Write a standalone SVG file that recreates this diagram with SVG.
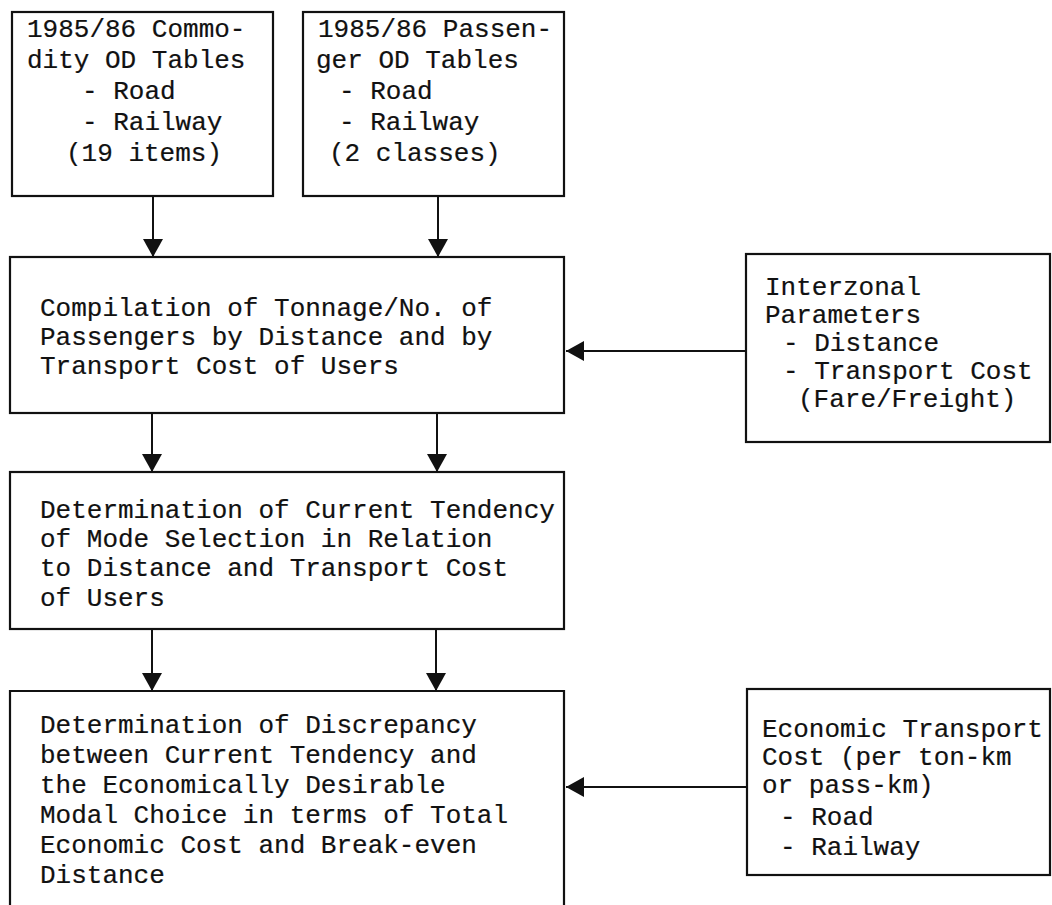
<svg xmlns="http://www.w3.org/2000/svg" width="1052" height="905" viewBox="0 0 1052 905">
<defs>
<style>
.box{fill:none;stroke:#111;stroke-width:2.2}
.t{font-family:"Liberation Mono","Courier New",monospace;font-size:26px;fill:#111;stroke:#111;stroke-width:0.2}
.ln{stroke:#111;stroke-width:2;fill:none}
</style>
<marker id="ah" viewBox="0 0 18 20" refX="18" refY="10" markerWidth="18" markerHeight="20" markerUnits="userSpaceOnUse" orient="auto">
<path d="M0,0 L18,10 L0,20 z" fill="#111"/>
</marker>
</defs>
<rect width="1052" height="905" fill="#fff"/>
<g id="n1">
<rect class="box" x="12" y="12" width="261" height="184"/>
<text class="t" x="27" y="37">1985/86 Commo-</text>
<text class="t" x="27" y="68">dity OD Tables</text>
<text class="t" x="82" y="99">- Road</text>
<text class="t" x="82" y="130">- Railway</text>
<text class="t" x="66" y="161">(19 items)</text>
</g>
<g id="n2">
<rect class="box" x="303" y="12" width="261" height="184"/>
<text class="t" x="318" y="37">1985/86 Passen-</text>
<text class="t" x="316" y="68">ger OD Tables</text>
<text class="t" x="339" y="99">- Road</text>
<text class="t" x="339" y="130">- Railway</text>
<text class="t" x="329" y="161">(2 classes)</text>
</g>
<g id="n3">
<rect class="box" x="10" y="257" width="554" height="156"/>
<text class="t" x="40" y="316">Compilation of Tonnage/No. of</text>
<text class="t" x="40" y="345">Passengers by Distance and by</text>
<text class="t" x="40" y="374">Transport Cost of Users</text>
</g>
<g id="n4">
<rect class="box" x="746" y="254" width="304" height="188"/>
<text class="t" x="765" y="295">Interzonal</text>
<text class="t" x="765" y="323">Parameters</text>
<text class="t" x="783" y="351">- Distance</text>
<text class="t" x="783" y="379">- Transport Cost</text>
<text class="t" x="798" y="407">(Fare/Freight)</text>
</g>
<g id="n5">
<rect class="box" x="10" y="472" width="554" height="157"/>
<text class="t" x="40" y="518">Determination of Current Tendency</text>
<text class="t" x="40" y="547">of Mode Selection in Relation</text>
<text class="t" x="40" y="576">to Distance and Transport Cost</text>
<text class="t" x="40" y="606">of Users</text>
</g>
<g id="n6">
<path class="box" d="M10,910 L10,691 L564,691 L564,910"/>
<text class="t" x="40" y="733">Determination of Discrepancy</text>
<text class="t" x="40" y="763">between Current Tendency and</text>
<text class="t" x="40" y="793">the Economically Desirable</text>
<text class="t" x="40" y="823">Modal Choice in terms of Total</text>
<text class="t" x="40" y="853">Economic Cost and Break-even</text>
<text class="t" x="40" y="883">Distance</text>
</g>
<g id="n7">
<rect class="box" x="747" y="689" width="303" height="186"/>
<text class="t" x="762" y="737">Economic Transport</text>
<text class="t" x="762" y="765">Cost (per ton-km</text>
<text class="t" x="762" y="793">or pass-km)</text>
<text class="t" x="780" y="825">- Road</text>
<text class="t" x="780" y="855">- Railway</text>
</g>
<g id="connectors">
<line class="ln" x1="153" y1="196" x2="153" y2="257" marker-end="url(#ah)"/>
<line class="ln" x1="438" y1="196" x2="438" y2="257" marker-end="url(#ah)"/>
<line class="ln" x1="152" y1="413" x2="152" y2="472" marker-end="url(#ah)"/>
<line class="ln" x1="437" y1="413" x2="437" y2="472" marker-end="url(#ah)"/>
<line class="ln" x1="152" y1="629" x2="152" y2="691" marker-end="url(#ah)"/>
<line class="ln" x1="436" y1="629" x2="436" y2="691" marker-end="url(#ah)"/>
<line class="ln" x1="746" y1="351" x2="566" y2="351" marker-end="url(#ah)"/>
<line class="ln" x1="747" y1="787" x2="566" y2="787" marker-end="url(#ah)"/>
</g>
</svg>
